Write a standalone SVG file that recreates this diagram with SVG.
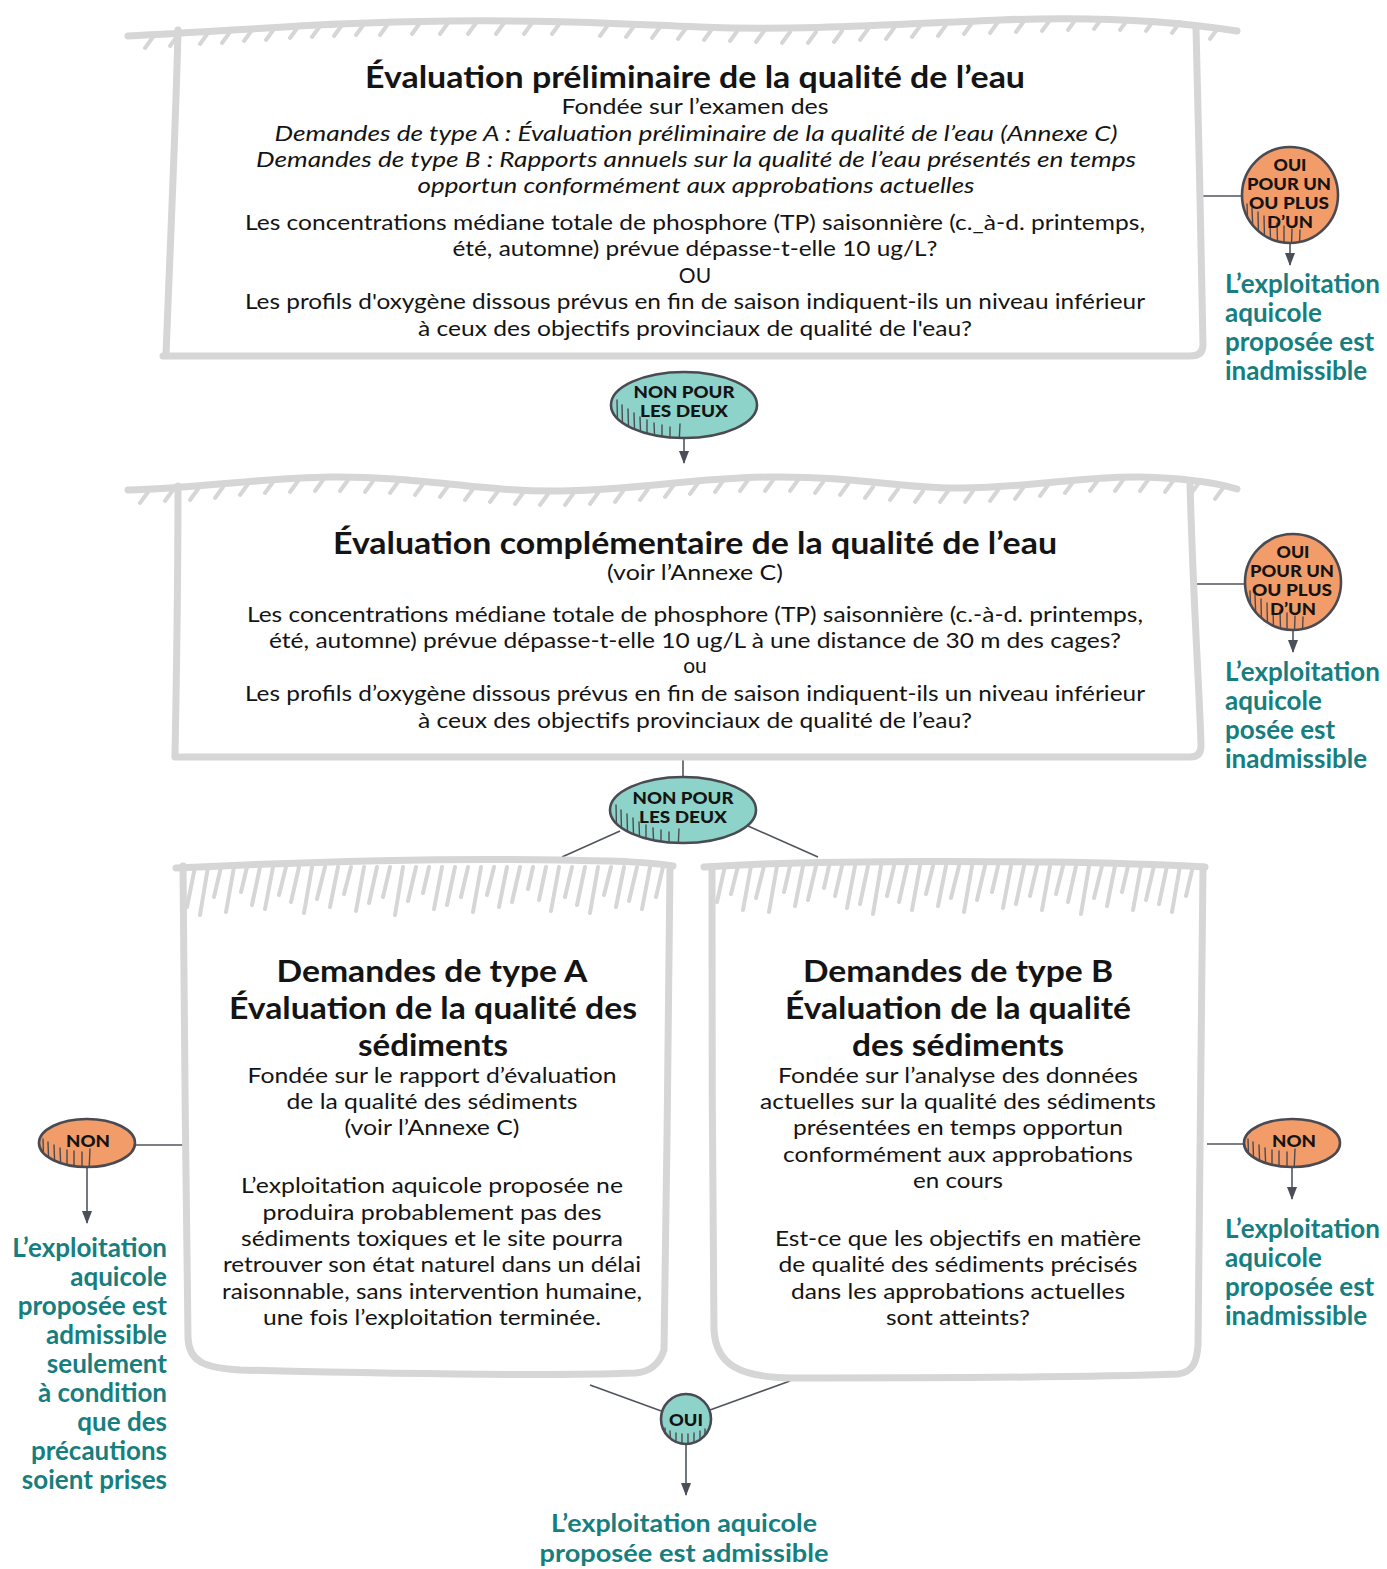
<svg xmlns="http://www.w3.org/2000/svg" width="1387" height="1569" viewBox="0 0 1387 1569">
  <style>
    .frame { fill: none; stroke: #d6d6d6; stroke-width: 7; stroke-linecap: round; stroke-linejoin: round; }
    .hatch { fill: none; stroke: #d6d6d6; stroke-width: 4; stroke-linecap: round; }
    .wire { fill: none; stroke: #50555d; stroke-width: 1.6; }
    .badge { stroke: #4a4b52; stroke-width: 2.6; }
    .teal { fill: #8ed3c9; }
    .orange { fill: #f29c69; }
    .scratch { fill: none; stroke: #4a4b52; stroke-width: 1.4; stroke-linecap: round; }
    text { font-family: Lato, "Noto Sans", "Liberation Sans", sans-serif; fill: #141414; }
    .c { text-anchor: middle; }
    .h { font-size: 30px; font-weight: 700; }
    .b { font-size: 21px; }
    .i { font-style: italic; }
    .k { font-size: 17px; font-weight: 900; text-anchor: middle; }
    .g { font-size: 26px; font-weight: 700; fill: #177e80; }
    .g2 { font-size: 25px; }
    .r { text-anchor: end; }
  </style>
  <defs>
    <marker id="arrow" markerUnits="userSpaceOnUse" markerWidth="13" markerHeight="10" viewBox="0 0 13 10" refX="12" refY="5" orient="auto">
      <path d="M0,0 L13,5 L0,10 z" fill="#4b4f57"/>
    </marker>
    <clipPath id="cpN1"><ellipse cx="684" cy="405" rx="73" ry="33"/></clipPath>
    <clipPath id="cpO1"><circle cx="1290" cy="195" r="48"/></clipPath>
    <clipPath id="cpO2"><circle cx="1293" cy="582" r="48"/></clipPath>
    <clipPath id="cpN2"><ellipse cx="683" cy="810" rx="73" ry="33"/></clipPath>
    <clipPath id="cpL"><ellipse cx="87" cy="1143" rx="48" ry="24"/></clipPath>
    <clipPath id="cpR"><ellipse cx="1292" cy="1143" rx="48" ry="24"/></clipPath>
    <clipPath id="cpY"><circle cx="686" cy="1419" r="25"/></clipPath>
  </defs>

  <rect width="1387" height="1569" fill="#ffffff"/>

  <!-- connectors -->
  <g id="connectors">
    <path class="wire" d="M1203,196 L1242,196"/>
    <path class="wire" d="M1290,243 L1290,265" marker-end="url(#arrow)"/>
    <path class="wire" d="M684,438 L684,463" marker-end="url(#arrow)"/>
    <path class="wire" d="M1197,584 L1245,584"/>
    <path class="wire" d="M1293,630 L1293,652" marker-end="url(#arrow)"/>
    <path class="wire" d="M683,757 L683,777"/>
    <path class="wire" d="M620,831 L562,857"/>
    <path class="wire" d="M748,826 L818,857"/>
    <path class="wire" d="M135,1145 L183,1145"/>
    <path class="wire" d="M87,1167 L87,1223" marker-end="url(#arrow)"/>
    <path class="wire" d="M1207,1144 L1244,1144"/>
    <path class="wire" d="M1292,1167 L1292,1199" marker-end="url(#arrow)"/>
    <path class="wire" d="M590,1385 L664,1412"/>
    <path class="wire" d="M790,1381 L710,1410"/>
    <path class="wire" d="M686,1444 L686,1495" marker-end="url(#arrow)"/>
  </g>

  <!-- preliminary water quality assessment -->
  <g id="box-preliminaire">
    <path class="frame" d="M128,36 C250,30 330,22 450,21 C560,20 620,24 700,27 C800,31 900,24 1000,20 C1100,16 1180,22 1237,31"/>
    <path class="hatch" d="M145,48 l8,-11 M170,46 l8,-11 M200,44 l8,-11 M222,43 l8,-11 M244,41 l8,-11 M266,40 l8,-11 M290,38 l8,-11 M312,37 l8,-11 M334,36 l8,-11 M356,35 l8,-11 M380,35 l8,-11 M412,34 l8,-11 M440,34 l8,-11 M468,34 l8,-11 M496,34 l8,-11 M524,34 l8,-11 M552,34 l8,-11 M600,36 l8,-11 M626,37 l8,-11 M652,38 l8,-11 M678,39 l8,-11 M704,40 l8,-11 M730,41 l8,-11 M756,42 l8,-11 M782,43 l8,-11 M808,43 l8,-11 M834,42 l8,-11 M860,40 l8,-11 M886,39 l8,-11 M912,37 l8,-11 M938,36 l8,-11 M964,34 l8,-11 M990,33 l8,-11 M1016,32 l8,-11 M1042,31 l8,-11 M1068,30 l8,-11 M1094,29 l8,-11 M1120,30 l8,-11 M1146,31 l8,-11 M1172,33 l8,-11 M1210,39 l8,-11"/>
    <path class="frame" d="M178,30 C176,120 170,250 166,355"/>
    <path class="frame" d="M1196,28 C1198,120 1202,260 1203,345 Q1203,356 1190,356 L163,356"/>
    <text class="h c" x="695" y="88" textLength="660" lengthAdjust="spacingAndGlyphs">Évaluation préliminaire de la qualité de l’eau</text>
    <text class="b c" x="695" y="114" textLength="267" lengthAdjust="spacingAndGlyphs">Fondée sur l’examen des</text>
    <text class="b c i" x="696" y="141" textLength="843" lengthAdjust="spacingAndGlyphs">Demandes de type A : Évaluation préliminaire de la qualité de l’eau (Annexe C)</text>
    <text class="b c i" x="696" y="167" textLength="880" lengthAdjust="spacingAndGlyphs">Demandes de type B : Rapports annuels sur la qualité de l’eau présentés en temps</text>
    <text class="b c i" x="696" y="193" textLength="557" lengthAdjust="spacingAndGlyphs">opportun conformément aux approbations actuelles</text>
    <text class="b c" x="695" y="230" textLength="900" lengthAdjust="spacingAndGlyphs">Les concentrations médiane totale de phosphore (TP) saisonnière (c._à-d. printemps,</text>
    <text class="b c" x="695" y="256" textLength="485" lengthAdjust="spacingAndGlyphs">été, automne) prévue dépasse-t-elle 10 ug/L?</text>
    <text class="b c" x="695" y="283">OU</text>
    <text class="b c" x="695" y="309" textLength="900" lengthAdjust="spacingAndGlyphs">Les profils d'oxygène dissous prévus en fin de saison indiquent-ils un niveau inférieur</text>
    <text class="b c" x="695" y="336" textLength="554" lengthAdjust="spacingAndGlyphs">à ceux des objectifs provinciaux de qualité de l'eau?</text>
  </g>

  <!-- badge: yes for one or more (preliminary) -->
  <g id="badge-oui-1">
    <circle class="orange" cx="1290" cy="195" r="48"/>
    <path class="scratch" clip-path="url(#cpO1)" d="M1247,204 L1249,260 M1252,208 L1254,260 M1258,212 L1259,260 M1264,216 L1265,260 M1270,220 L1271,260 M1277,223 L1278,260 M1284,226 L1284,260 M1292,229 L1291,260 M1300,230 L1299,260"/>
    <circle class="badge" fill="none" cx="1290" cy="195" r="48"/>
    <text class="k" x="1290" y="171" textLength="33" lengthAdjust="spacingAndGlyphs">OUI</text>
    <text class="k" x="1289" y="190" textLength="84" lengthAdjust="spacingAndGlyphs">POUR UN</text>
    <text class="k" x="1289" y="209" textLength="80" lengthAdjust="spacingAndGlyphs">OU PLUS</text>
    <text class="k" x="1290" y="228" textLength="46" lengthAdjust="spacingAndGlyphs">D’UN</text>
  </g>
  <g id="result-inadmissible-1">
    <text class="g" x="1225" y="293">L’exploitation</text>
    <text class="g" x="1225" y="322">aquicole</text>
    <text class="g" x="1225" y="351">proposée est</text>
    <text class="g" x="1225" y="380">inadmissible</text>
  </g>

  <!-- badge: no for both (preliminary) -->
  <g id="badge-non-1">
    <ellipse class="teal" cx="684" cy="405" rx="73" ry="33"/>
    <path class="scratch" clip-path="url(#cpN1)" d="M617,400 L618,445 M622,405 L623,445 M628,409 L629,445 M634,413 L635,445 M640,417 L641,445 M647,420 L647,445 M654,423 L655,445 M662,425 L662,445 M670,427 L670,445 M680,424 L679,445"/>
    <ellipse class="badge" fill="none" cx="684" cy="405" rx="73" ry="33"/>
    <text class="k" x="684" y="398" textLength="101" lengthAdjust="spacingAndGlyphs">NON POUR</text>
    <text class="k" x="684" y="417" textLength="88" lengthAdjust="spacingAndGlyphs">LES DEUX</text>
  </g>

  <!-- complementary water quality assessment -->
  <g id="box-complementaire">
    <path class="frame" d="M128,490 C200,488 260,478 330,477 C420,476 480,492 560,491 C640,490 690,478 770,477 C860,476 900,489 960,488 C1040,487 1080,476 1140,477 C1190,478 1220,484 1237,489"/>
    <path class="hatch" d="M140,503 l8,-11 M165,501 l8,-11 M190,500 l8,-11 M215,498 l8,-11 M240,495 l8,-11 M265,493 l8,-11 M290,492 l8,-11 M315,491 l8,-11 M340,491 l8,-11 M365,492 l8,-11 M390,493 l8,-11 M415,495 l8,-11 M440,497 l8,-11 M465,500 l8,-11 M490,502 l8,-11 M515,504 l8,-11 M540,505 l8,-11 M565,505 l8,-11 M590,504 l8,-11 M615,502 l8,-11 M640,500 l8,-11 M665,497 l8,-11 M690,494 l8,-11 M715,492 l8,-11 M740,491 l8,-11 M765,491 l8,-11 M790,491 l8,-11 M815,493 l8,-11 M840,495 l8,-11 M865,498 l8,-11 M890,500 l8,-11 M915,502 l8,-11 M940,502 l8,-11 M965,502 l8,-11 M990,501 l8,-11 M1015,499 l8,-11 M1040,496 l8,-11 M1065,493 l8,-11 M1090,491 l8,-11 M1115,491 l8,-11 M1140,491 l8,-11 M1165,492 l8,-11 M1190,495 l8,-11 M1215,499 l8,-11"/>
    <path class="frame" d="M178,486 C178,600 176,700 175,756"/>
    <path class="frame" d="M1190,482 C1193,600 1200,700 1201,746 Q1201,757 1190,757 L175,757"/>
    <text class="h c" x="695" y="554" textLength="724" lengthAdjust="spacingAndGlyphs">Évaluation complémentaire de la qualité de l’eau</text>
    <text class="b c" x="695" y="580" textLength="176" lengthAdjust="spacingAndGlyphs">(voir l’Annexe C)</text>
    <text class="b c" x="695" y="622" textLength="896" lengthAdjust="spacingAndGlyphs">Les concentrations médiane totale de phosphore (TP) saisonnière (c.-à-d. printemps,</text>
    <text class="b c" x="695" y="648" textLength="852" lengthAdjust="spacingAndGlyphs">été, automne) prévue dépasse-t-elle 10 ug/L à une distance de 30 m des cages?</text>
    <text class="b c" x="695" y="673">ou</text>
    <text class="b c" x="695" y="701" textLength="900" lengthAdjust="spacingAndGlyphs">Les profils d’oxygène dissous prévus en fin de saison indiquent-ils un niveau inférieur</text>
    <text class="b c" x="695" y="728" textLength="554" lengthAdjust="spacingAndGlyphs">à ceux des objectifs provinciaux de qualité de l’eau?</text>
  </g>

  <!-- badge: yes for one or more (complementary) -->
  <g id="badge-oui-2">
    <circle class="orange" cx="1293" cy="582" r="48"/>
    <path class="scratch" clip-path="url(#cpO2)" d="M1250,591 L1252,647 M1255,595 L1257,647 M1261,599 L1262,647 M1267,603 L1268,647 M1273,607 L1274,647 M1280,610 L1281,647 M1287,613 L1287,647 M1295,616 L1294,647 M1303,617 L1302,647"/>
    <circle class="badge" fill="none" cx="1293" cy="582" r="48"/>
    <text class="k" x="1293" y="558" textLength="33" lengthAdjust="spacingAndGlyphs">OUI</text>
    <text class="k" x="1292" y="577" textLength="84" lengthAdjust="spacingAndGlyphs">POUR UN</text>
    <text class="k" x="1292" y="596" textLength="80" lengthAdjust="spacingAndGlyphs">OU PLUS</text>
    <text class="k" x="1293" y="615" textLength="46" lengthAdjust="spacingAndGlyphs">D’UN</text>
  </g>
  <g id="result-inadmissible-2">
    <text class="g" x="1225" y="681">L’exploitation</text>
    <text class="g" x="1225" y="710">aquicole</text>
    <text class="g" x="1225" y="739">posée est</text>
    <text class="g" x="1225" y="768">inadmissible</text>
  </g>

  <!-- badge: no for both (complementary) -->
  <g id="badge-non-2">
    <ellipse class="teal" cx="683" cy="810" rx="73" ry="33"/>
    <path class="scratch" clip-path="url(#cpN2)" d="M616,805 L617,850 M621,810 L622,850 M627,814 L628,850 M633,818 L634,850 M639,822 L640,850 M646,825 L646,850 M653,828 L654,850 M661,830 L661,850 M669,832 L669,850 M679,829 L678,850"/>
    <ellipse class="badge" fill="none" cx="683" cy="810" rx="73" ry="33"/>
    <text class="k" x="683" y="804" textLength="101" lengthAdjust="spacingAndGlyphs">NON POUR</text>
    <text class="k" x="683" y="823" textLength="88" lengthAdjust="spacingAndGlyphs">LES DEUX</text>
  </g>

  <!-- type A sediment quality -->
  <g id="box-type-a">
    <path class="frame" d="M176,868 C300,862 450,858 560,860 C620,861 650,862 673,866"/>
    <path class="hatch" d="M195,867 l-8,40 M208,867 l-8,48 M221,867 l-7,30 M234,867 l-8,45 M247,867 l-6,25 M260,867 l-8,38 M273,867 l-8,42 M286,867 l-7,28 M299,867 l-8,35 M312,867 l-8,46 M325,867 l-8,32 M338,867 l-8,40 M351,867 l-7,27 M364,867 l-8,44 M377,867 l-8,36 M390,867 l-7,30 M403,867 l-8,48 M416,867 l-8,34 M429,867 l-6,26 M442,867 l-8,42 M455,867 l-8,38 M468,867 l-7,30 M481,867 l-8,45 M494,867 l-7,28 M507,867 l-8,40 M520,867 l-8,35 M533,867 l-5,22 M546,867 l-7,33 M559,867 l-8,44 M572,867 l-7,30 M585,867 l-8,38 M598,867 l-8,46 M611,867 l-7,28 M624,867 l-8,40 M637,867 l-8,34 M650,867 l-8,42 M663,867 l-7,30"/>
    <path class="frame" d="M183,866 C184,1000 186,1200 188,1338 C189,1362 205,1368 240,1370 C400,1374 550,1376 635,1373 C652,1372 660,1362 664,1350 C667,1200 668,1000 670,866"/>
    <text class="h c" x="432" y="982" textLength="311" lengthAdjust="spacingAndGlyphs">Demandes de type A</text>
    <text class="h c" x="433" y="1019" textLength="408" lengthAdjust="spacingAndGlyphs">Évaluation de la qualité des</text>
    <text class="h c" x="433" y="1056" textLength="150" lengthAdjust="spacingAndGlyphs">sédiments</text>
    <text class="b c" x="432" y="1083" textLength="369" lengthAdjust="spacingAndGlyphs">Fondée sur le rapport d’évaluation</text>
    <text class="b c" x="432" y="1109" textLength="291" lengthAdjust="spacingAndGlyphs">de la qualité des sédiments</text>
    <text class="b c" x="432" y="1135" textLength="175" lengthAdjust="spacingAndGlyphs">(voir l’Annexe C)</text>
    <text class="b c" x="432" y="1193" textLength="382" lengthAdjust="spacingAndGlyphs">L’exploitation aquicole proposée ne</text>
    <text class="b c" x="432" y="1220" textLength="339" lengthAdjust="spacingAndGlyphs">produira probablement pas des</text>
    <text class="b c" x="432" y="1246" textLength="382" lengthAdjust="spacingAndGlyphs">sédiments toxiques et le site pourra</text>
    <text class="b c" x="432" y="1272" textLength="418" lengthAdjust="spacingAndGlyphs">retrouver son état naturel dans un délai</text>
    <text class="b c" x="432" y="1299" textLength="420" lengthAdjust="spacingAndGlyphs">raisonnable, sans intervention humaine,</text>
    <text class="b c" x="432" y="1325" textLength="338" lengthAdjust="spacingAndGlyphs">une fois l’exploitation terminée.</text>
  </g>

  <!-- type B sediment quality -->
  <g id="box-type-b">
    <path class="frame" d="M704,867 C800,860 950,861 1050,862 C1120,863 1170,865 1205,867"/>
    <path class="hatch" d="M725,866 l-8,36 M738,866 l-7,28 M751,866 l-8,44 M764,866 l-8,32 M777,866 l-8,46 M790,866 l-6,26 M803,866 l-8,40 M816,866 l-8,34 M829,866 l-5,22 M842,866 l-7,30 M855,866 l-8,42 M868,866 l-8,38 M881,866 l-8,48 M894,866 l-7,30 M907,866 l-8,36 M920,866 l-8,44 M933,866 l-7,28 M946,866 l-8,40 M959,866 l-8,32 M972,866 l-8,46 M985,866 l-8,34 M998,866 l-6,26 M1011,866 l-8,42 M1024,866 l-8,38 M1037,866 l-7,30 M1050,866 l-8,44 M1063,866 l-7,28 M1076,866 l-8,36 M1089,866 l-8,48 M1102,866 l-8,32 M1115,866 l-8,40 M1128,866 l-6,26 M1141,866 l-8,44 M1154,866 l-8,34 M1167,866 l-8,38 M1180,866 l-8,46 M1193,866 l-7,30"/>
    <path class="frame" d="M712,867 C712,1000 712,1200 714,1330 C716,1365 740,1377 790,1378 C950,1378 1100,1377 1178,1374 C1194,1372 1197,1360 1198,1345 C1200,1200 1201,1000 1203,867"/>
    <text class="h c" x="958" y="982" textLength="310" lengthAdjust="spacingAndGlyphs">Demandes de type B</text>
    <text class="h c" x="958" y="1019" textLength="346" lengthAdjust="spacingAndGlyphs">Évaluation de la qualité</text>
    <text class="h c" x="958" y="1056" textLength="212" lengthAdjust="spacingAndGlyphs">des sédiments</text>
    <text class="b c" x="958" y="1083" textLength="360" lengthAdjust="spacingAndGlyphs">Fondée sur l’analyse des données</text>
    <text class="b c" x="958" y="1109" textLength="396" lengthAdjust="spacingAndGlyphs">actuelles sur la qualité des sédiments</text>
    <text class="b c" x="958" y="1135" textLength="330" lengthAdjust="spacingAndGlyphs">présentées en temps opportun</text>
    <text class="b c" x="958" y="1162" textLength="350" lengthAdjust="spacingAndGlyphs">conformément aux approbations</text>
    <text class="b c" x="958" y="1188" textLength="90" lengthAdjust="spacingAndGlyphs">en cours</text>
    <text class="b c" x="958" y="1246" textLength="366" lengthAdjust="spacingAndGlyphs">Est-ce que les objectifs en matière</text>
    <text class="b c" x="958" y="1272" textLength="359" lengthAdjust="spacingAndGlyphs">de qualité des sédiments précisés</text>
    <text class="b c" x="958" y="1299" textLength="334" lengthAdjust="spacingAndGlyphs">dans les approbations actuelles</text>
    <text class="b c" x="958" y="1325" textLength="144" lengthAdjust="spacingAndGlyphs">sont atteints?</text>
  </g>

  <!-- badge: no (type A) -->
  <g id="badge-non-a">
    <ellipse class="orange" cx="87" cy="1143" rx="48" ry="24"/>
    <path class="scratch" clip-path="url(#cpL)" d="M43,1139 L44,1172 M48,1142 L49,1172 M54,1145 L55,1172 M60,1148 L61,1172 M67,1150 L67,1172 M74,1151 L74,1172 M82,1152 L82,1172 M90,1149 L89,1172"/>
    <ellipse class="badge" fill="none" cx="87" cy="1143" rx="48" ry="24"/>
    <text class="k" x="88" y="1147" textLength="44" lengthAdjust="spacingAndGlyphs">NON</text>
  </g>
  <g id="result-conditionnel">
    <text class="g r" x="167" y="1257">L’exploitation</text>
    <text class="g r" x="167" y="1286">aquicole</text>
    <text class="g r" x="167" y="1315">proposée est</text>
    <text class="g r" x="167" y="1344">admissible</text>
    <text class="g r" x="167" y="1373">seulement</text>
    <text class="g r" x="167" y="1402">à condition</text>
    <text class="g r" x="167" y="1431">que des</text>
    <text class="g r" x="167" y="1460">précautions</text>
    <text class="g r" x="167" y="1489">soient prises</text>
  </g>

  <!-- badge: no (type B) -->
  <g id="badge-non-b">
    <ellipse class="orange" cx="1292" cy="1143" rx="48" ry="24"/>
    <path class="scratch" clip-path="url(#cpR)" d="M1248,1139 L1249,1172 M1253,1142 L1254,1172 M1259,1145 L1260,1172 M1265,1148 L1266,1172 M1272,1150 L1272,1172 M1279,1151 L1279,1172 M1287,1152 L1287,1172 M1295,1149 L1294,1172"/>
    <ellipse class="badge" fill="none" cx="1292" cy="1143" rx="48" ry="24"/>
    <text class="k" x="1294" y="1147" textLength="44" lengthAdjust="spacingAndGlyphs">NON</text>
  </g>
  <g id="result-inadmissible-3">
    <text class="g" x="1225" y="1238">L’exploitation</text>
    <text class="g" x="1225" y="1267">aquicole</text>
    <text class="g" x="1225" y="1296">proposée est</text>
    <text class="g" x="1225" y="1325">inadmissible</text>
  </g>

  <!-- badge: yes (sediments) -->
  <g id="badge-oui-3">
    <circle class="teal" cx="686" cy="1419" r="25"/>
    <path class="scratch" clip-path="url(#cpY)" d="M665,1428 L666,1448 M670,1431 L671,1448 M676,1433 L676,1448 M682,1434 L682,1448 M688,1434 L688,1448 M694,1433 L694,1448 M700,1431 L700,1448 M705,1429 L705,1448"/>
    <circle class="badge" fill="none" cx="686" cy="1419" r="25"/>
    <text class="k" x="686" y="1426" textLength="34" lengthAdjust="spacingAndGlyphs">OUI</text>
  </g>
  <g id="result-admissible">
    <text class="g g2 c" x="684" y="1532" textLength="266" lengthAdjust="spacingAndGlyphs">L’exploitation aquicole</text>
    <text class="g g2 c" x="684" y="1562" textLength="289" lengthAdjust="spacingAndGlyphs">proposée est admissible</text>
  </g>
</svg>
